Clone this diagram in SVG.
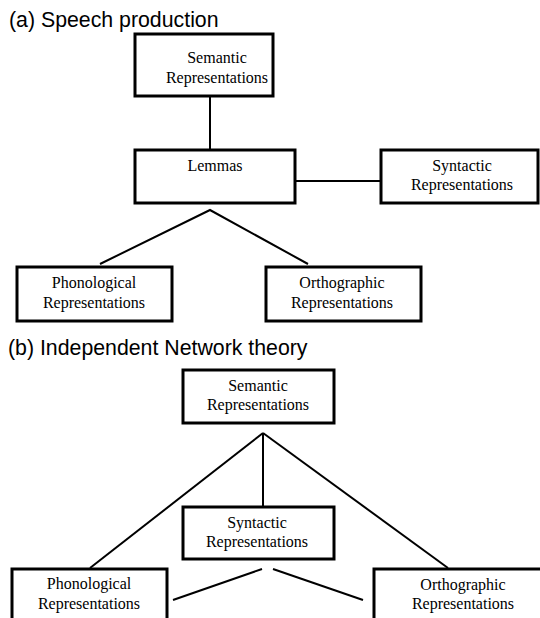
<svg xmlns="http://www.w3.org/2000/svg" width="540" height="618" viewBox="0 0 540 618">
<style>
.title{font-family:"Liberation Sans",Arial,sans-serif;font-size:21.3px;fill:#000}
.box{fill:#fff;stroke:#000;stroke-width:3}
.lbl{font-family:"Liberation Serif","Times New Roman",serif;font-size:16px;fill:#000;text-anchor:middle}
.edge{stroke:#000;stroke-width:2;fill:none}
</style>
<rect width="540" height="618" fill="#fff"/>
<text class="title" x="9" y="27">(a) Speech production</text>
<text class="title" x="8" y="355">(b) Independent Network theory</text>
<g id="connectors">
<line class="edge" x1="210" y1="96" x2="210" y2="150"/>
<line class="edge" x1="295" y1="181" x2="381" y2="181"/>
<polyline class="edge" points="100,264 210,210 308,264"/>
<line class="edge" x1="263" y1="433" x2="263" y2="507"/>
<line class="edge" x1="263" y1="433" x2="90" y2="568"/>
<line class="edge" x1="263" y1="433" x2="448" y2="568"/>
<line class="edge" x1="262" y1="569" x2="173" y2="600"/>
<line class="edge" x1="273" y1="569" x2="363" y2="600"/>
</g>
<g id="a-semantic">
<rect class="box" x="135" y="34" width="138" height="62"/>
<text class="lbl" x="217" y="63">Semantic</text>
<text class="lbl" x="217" y="83">Representations</text>
</g>
<g id="a-lemmas">
<rect class="box" x="135" y="150" width="160" height="53"/>
<text class="lbl" x="215" y="171">Lemmas</text>
</g>
<g id="a-syntactic">
<rect class="box" x="381" y="150" width="157" height="53"/>
<text class="lbl" x="462" y="171">Syntactic</text>
<text class="lbl" x="462" y="190">Representations</text>
</g>
<g id="a-phonological">
<rect class="box" x="17" y="267" width="155" height="54"/>
<text class="lbl" x="94" y="288">Phonological</text>
<text class="lbl" x="94" y="308">Representations</text>
</g>
<g id="a-orthographic">
<rect class="box" x="266" y="267" width="155" height="54"/>
<text class="lbl" x="342" y="288">Orthographic</text>
<text class="lbl" x="342" y="308">Representations</text>
</g>
<g id="b-semantic">
<rect class="box" x="183" y="370" width="151" height="53"/>
<text class="lbl" x="258" y="391">Semantic</text>
<text class="lbl" x="258" y="410">Representations</text>
</g>
<g id="b-syntactic">
<rect class="box" x="183" y="507" width="151" height="52"/>
<text class="lbl" x="257" y="528">Syntactic</text>
<text class="lbl" x="257" y="547">Representations</text>
</g>
<g id="b-phonological">
<rect class="box" x="12" y="569" width="155" height="60"/>
<text class="lbl" x="89" y="589">Phonological</text>
<text class="lbl" x="89" y="609">Representations</text>
</g>
<g id="b-orthographic">
<rect class="box" x="374" y="569" width="180" height="60"/>
<text class="lbl" x="463" y="590">Orthographic</text>
<text class="lbl" x="463" y="609">Representations</text>
</g>
</svg>
